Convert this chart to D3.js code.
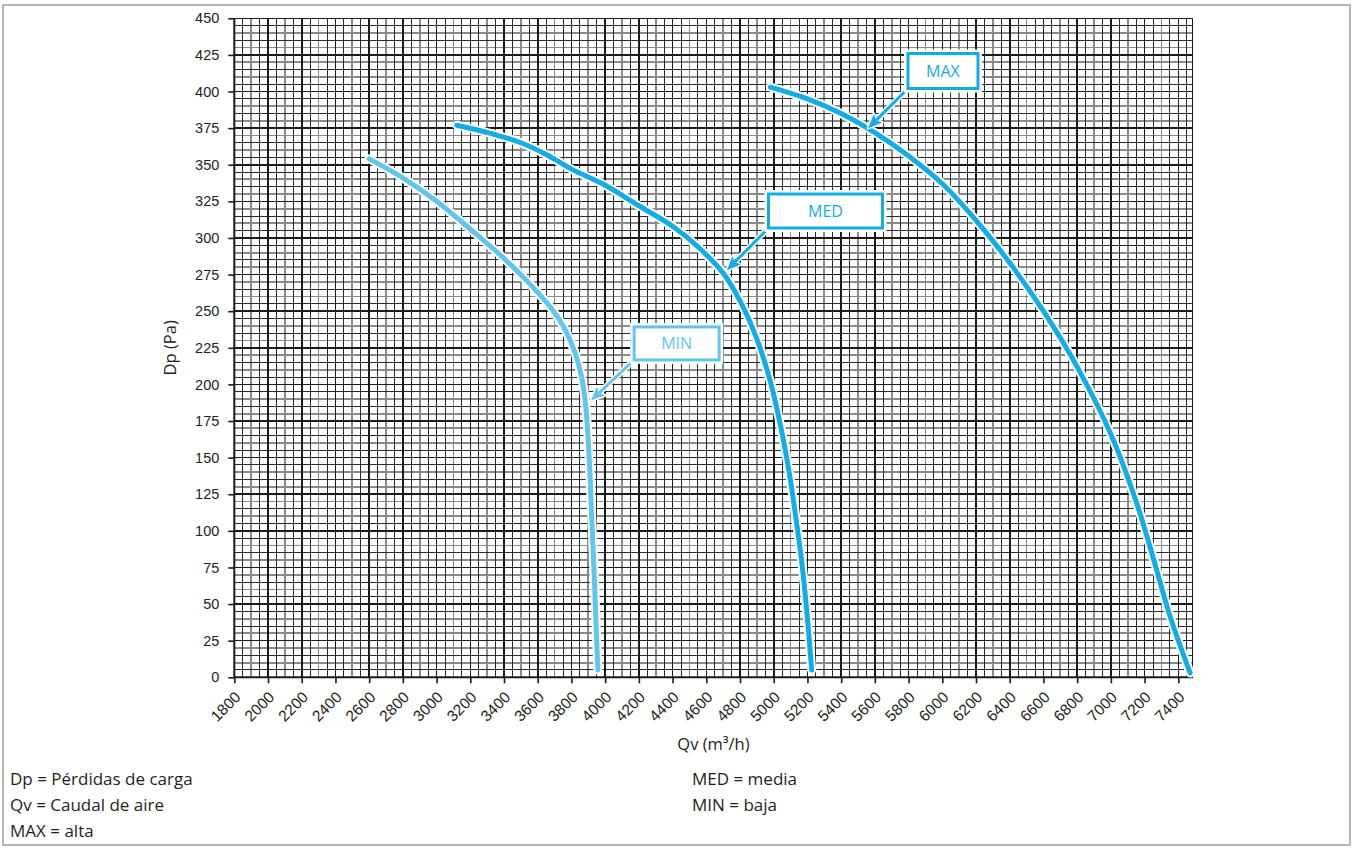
<!DOCTYPE html>
<html>
<head>
<meta charset="utf-8">
<script src="https://cdn.jsdelivr.net/npm/d3@7/dist/d3.min.js"></script>
<style>
  html, body { margin: 0; padding: 0; background: #fff; }
  svg { display: block; font-family: "Open Sans", "DejaVu Sans", sans-serif; }
</style>
</head>
<body>
<svg id="chart" width="1355" height="848"></svg>
<script>
// ---------- data ----------
const xTickValues = d3.range(1800, 7401, 200);
const yTickValues = d3.range(0, 451, 25);
const xDomain = [1800, 7485];
const yDomain = [0, 450];

const maxCurve = [[4980,403],[5200,395],[5400,385],[5600,372],[5800,356],[6000,337],[6200,312],[6400,283],[6600,250],[6800,212],[7000,166],[7150,120],[7250,82],[7350,42],[7470,3]];
const medCurve = [[3120,377],[3300,372],[3500,365],[3650,357],[3800,347],[4000,336],[4200,322],[4400,308],[4550,294],[4700,276],[4800,257],[4900,231],[4980,202],[5040,172],[5090,141],[5130,110],[5170,75],[5200,40],[5225,5]];
const minCurve = [[2600,354],[2800,341],[3000,325],[3200,306],[3400,286],[3550,269],[3680,252],[3760,238],[3820,222],[3860,205],[3885,185],[3905,150],[3920,110],[3935,70],[3948,30],[3957,5]];

const seriesNames = ["MAX", "MED", "MIN"];
const seriesData = [maxCurve, medCurve, minCurve];
const seriesColors = ["#12ace6", "#12ace6", "#60c6ee"];
// label box centre (data units) and arrow tip on curve (data units)
const labelCentres = [[6004, 414], [5307, 318.4], [4424, 228]];
const arrowTips = [[5560, 375], [4722, 278], [3916, 189]];
const labelBoxSizes = [[70, 35], [114, 34], [85, 33]];

const legendLeft = ["Dp = Pérdidas de carga", "Qv = Caudal de aire", "MAX = alta"];
const legendRight = ["MED = media", "MIN = baja"];
const xTitle = "Qv (m³/h)";
const yTitle = "Dp (Pa)";

// ---------- setup ----------
const svg = d3.select("#chart");
const x = d3.scaleLinear().domain([1800, 7400]).range([234.3, 1178.3]);
const y = d3.scaleLinear().domain(yDomain).range([677.3, 18.3]);
const X0 = x(xDomain[0]), X1 = x(xDomain[1]), Y0 = y(0), Y1 = y(450);

// outer frame
svg.append("rect").attr("x", 3).attr("y", 5).attr("width", 1347).attr("height", 840)
  .attr("fill", "none").attr("stroke", "#b5b5b5").attr("stroke-width", 2);

// ---------- grid ----------
const g = svg.append("g");
const vLines = d3.range(1800, 7451, 50);
const hLines = d3.range(0, 451, 5);

function vStyle(v) {
  if (v % 200 === 0) return {c: "#1a1a1a", w: 1.6};
  if (v % 100 === 0) return {c: "#8a8a8a", w: 1.8};
  return {c: "#2a2a2a", w: 1};
}
function hStyle(v) {
  if (v % 25 === 0) return {c: "#1a1a1a", w: 1.6};
  if (v % 10 === 0) return {c: "#8a8a8a", w: 1.8};
  return {c: "#2a2a2a", w: 1};
}
const order = (s) => s.c === "#8a8a8a" ? 0 : (s.w < 1.5 ? 1 : 2);
const allLines = [];
vLines.forEach(v => { const s = vStyle(v); allLines.push({x1: x(v), x2: x(v), y1: Y0, y2: Y1, ...s, o: order(s)}); });
hLines.forEach(v => { const s = hStyle(v); allLines.push({x1: X0, x2: X1, y1: y(v), y2: y(v), ...s, o: order(s)}); });
allLines.push({x1: X1, x2: X1, y1: Y0, y2: Y1, c: "#1a1a1a", w: 1.6, o: 2});
allLines.sort((a, b) => a.o - b.o);
g.selectAll("line").data(allLines).join("line")
  .attr("x1", d => d.x1).attr("x2", d => d.x2).attr("y1", d => d.y1).attr("y2", d => d.y2)
  .attr("stroke", d => d.c).attr("stroke-width", d => d.w).attr("shape-rendering", "crispEdges");

// ---------- axes ----------
const xAxis = svg.append("g").attr("transform", `translate(0,${Y0})`)
  .call(d3.axisBottom(x).tickValues(xTickValues).tickSize(6).tickFormat(d3.format("d")));
xAxis.select(".domain").attr("stroke", "#1a1a1a").attr("stroke-width", 2).attr("d", `M${X0},0H${X1}`);
xAxis.selectAll(".tick line").attr("stroke", "#1a1a1a").attr("stroke-width", 1.6);
xAxis.selectAll(".tick text")
  .attr("font-size", 15.5).attr("fill", "#231f20")
  .attr("text-anchor", "end")
  .attr("transform", "translate(3,17) rotate(-45)")
  .attr("x", 0).attr("y", 0).attr("dy", "0.35em");

const yAxis = svg.append("g").attr("transform", `translate(${X0},0)`)
  .call(d3.axisLeft(y).tickValues(yTickValues).tickSize(6).tickPadding(9));
yAxis.select(".domain").attr("stroke", "#1a1a1a").attr("stroke-width", 2).attr("d", `M0,${Y0}V${Y1}`);
yAxis.selectAll(".tick line").attr("stroke", "#1a1a1a").attr("stroke-width", 1.6);
yAxis.selectAll(".tick text").attr("font-size", 14.5).attr("fill", "#231f20");

svg.append("text").attr("transform", `translate(170,${(Y0 + Y1) / 2}) rotate(-90)`)
  .attr("text-anchor", "middle").attr("dy", "0.35em")
  .attr("font-size", 16.5).attr("fill", "#231f20").text(yTitle);
svg.append("text").attr("x", (X0 + X1) / 2).attr("y", 750)
  .attr("text-anchor", "middle").attr("font-size", 16.5).attr("fill", "#231f20").text(xTitle);

// ---------- curves ----------
const line = d3.line().x(d => x(d[0])).y(d => y(d[1])).curve(d3.curveCatmullRom.alpha(0.5));
const curves = svg.append("g");
seriesData.forEach((data, i) => {
  curves.append("path").attr("d", line(data)).attr("fill", "none")
    .attr("stroke", "#fff").attr("stroke-width", 9).attr("stroke-linecap", "round").attr("stroke-linejoin", "round");
  curves.append("path").attr("d", line(data)).attr("fill", "none")
    .attr("stroke", seriesColors[i]).attr("stroke-width", 5).attr("stroke-linecap", "round").attr("stroke-linejoin", "round");
});

// ---------- labels with arrows ----------
const ann = svg.append("g");
seriesNames.forEach((name, i) => {
  const col = seriesColors[i];
  const cx = x(labelCentres[i][0]), cy = y(labelCentres[i][1]);
  const [bw, bh] = labelBoxSizes[i];
  const sx = cx - bw / 2, sy = cy + bh / 2; // bottom-left corner
  const tx = x(arrowTips[i][0]), ty = y(arrowTips[i][1]);
  const ang = Math.atan2(ty - sy, tx - sx);
  const headLen = 14, headW = 6;
  const bx = tx - headLen * Math.cos(ang), by = ty - headLen * Math.sin(ang);
  const px = -Math.sin(ang), py = Math.cos(ang);
  const head = `M${tx},${ty}L${bx + px * headW},${by + py * headW}L${bx + 3 * Math.cos(ang)},${by + 3 * Math.sin(ang)}L${bx - px * headW},${by - py * headW}Z`;
  ann.append("line").attr("x1", sx).attr("y1", sy).attr("x2", bx).attr("y2", by)
    .attr("stroke", "#fff").attr("stroke-width", 6);
  ann.append("path").attr("d", head).attr("fill", "#fff").attr("stroke", "#fff").attr("stroke-width", 3).attr("stroke-linejoin", "round");
  ann.append("line").attr("x1", sx).attr("y1", sy).attr("x2", bx + 3 * Math.cos(ang)).attr("y2", by + 3 * Math.sin(ang))
    .attr("stroke", col).attr("stroke-width", 3);
  ann.append("path").attr("d", head).attr("fill", col);
  ann.append("rect").attr("x", sx).attr("y", cy - bh / 2).attr("width", bw).attr("height", bh)
    .attr("fill", "#fff").attr("stroke", "#fff").attr("stroke-width", 8);
  ann.append("rect").attr("x", sx).attr("y", cy - bh / 2).attr("width", bw).attr("height", bh)
    .attr("fill", "#fff").attr("stroke", col).attr("stroke-width", 3);
  ann.append("text").attr("x", cx).attr("y", cy).attr("dy", "0.36em").attr("text-anchor", "middle")
    .attr("font-size", 16).attr("fill", col).text(name);
});

// ---------- legend notes ----------
svg.append("g").selectAll("text").data(legendLeft).join("text")
  .attr("x", 10).attr("y", (d, i) => 785 + i * 26)
  .attr("font-size", 17).attr("fill", "#231f20").text(d => d);
svg.append("g").selectAll("text").data(legendRight).join("text")
  .attr("x", 692).attr("y", (d, i) => 785 + i * 26)
  .attr("font-size", 17).attr("fill", "#231f20").text(d => d);
</script>
</body>
</html>
